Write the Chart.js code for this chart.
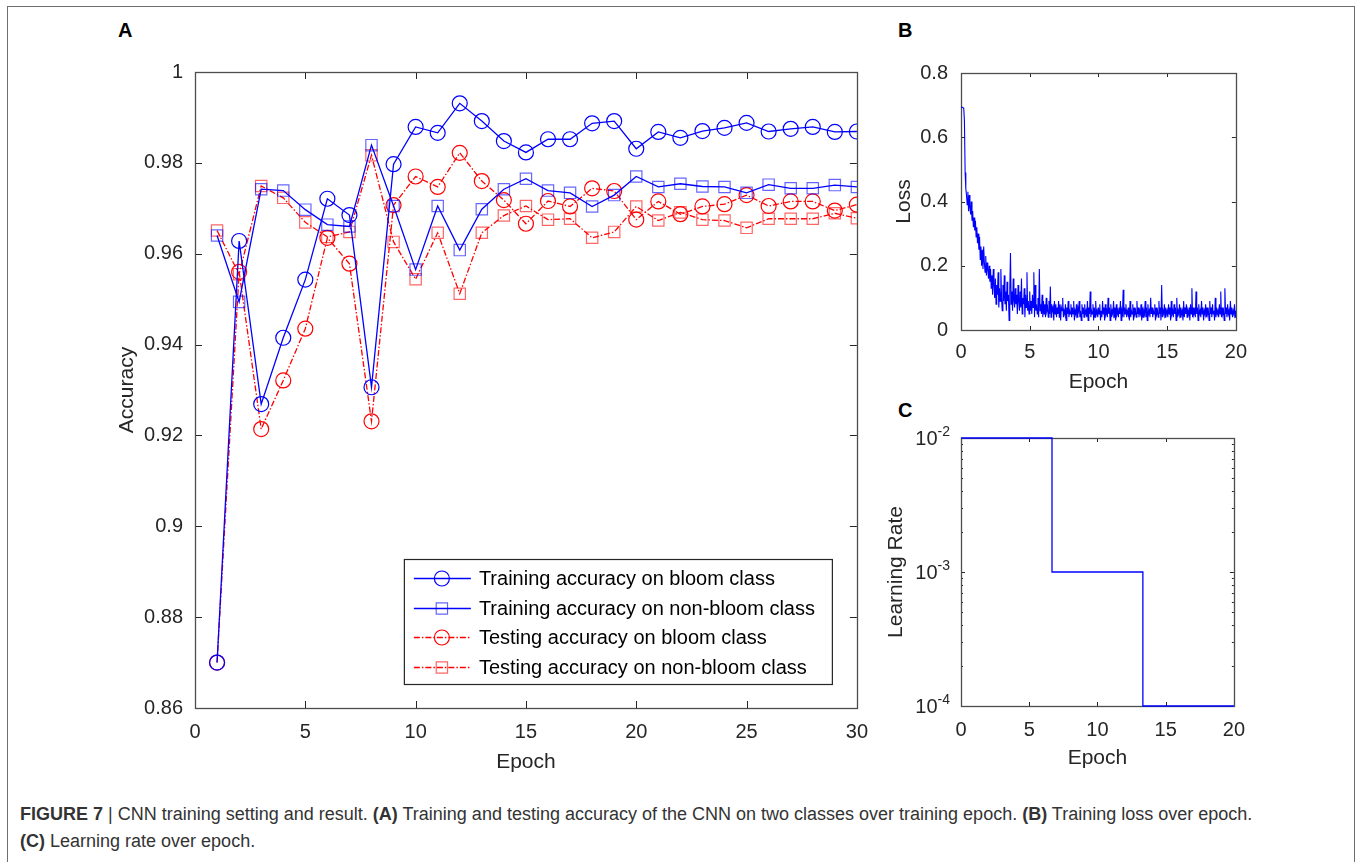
<!DOCTYPE html>
<html>
<head>
<meta charset="utf-8">
<script src="https://cdn.jsdelivr.net/npm/chart.js@4.4.1/dist/chart.umd.min.js"></script>
<style>
    html, body { margin: 0; padding: 0; background: #fff; }
    #page { position: relative; width: 1357px; height: 862px; overflow: hidden; font-family: "Liberation Sans", Arial, sans-serif; }
    .frame { position: absolute; left: 7px; top: 6px; width: 1348px; height: 900px; border: 1.5px solid #6e6e6e; box-sizing: border-box; }
    .box { position: absolute; }
    .panel { position: absolute; font-weight: bold; font-size: 20px; line-height: 22px; color: #000; }
    .caption { position: absolute; left: 20px; top: 801px; font-size: 18px; line-height: 27px; color: #333; white-space: nowrap; }
</style>
</head>
<body>
<div id="page">
    <div class="frame"></div>

    <div class="panel" style="left:118px; top:19px;">A</div>
    <div class="panel" style="left:898px; top:19px;">B</div>
    <div class="panel" style="left:898px; top:399px;">C</div>

    <div class="box" style="left:100px; top:48px;"><canvas id="acc-chart" width="780" height="744"></canvas></div>
    <div class="box" style="left:880px; top:48px;"><canvas id="loss-chart" width="377" height="357"></canvas></div>
    <div class="box" style="left:872px; top:424px;"><canvas id="lr-chart" width="385" height="366"></canvas></div>

    <div class="caption"><b>FIGURE 7</b> | CNN training setting and result. <b>(A)</b> Training and testing accuracy of the CNN on two classes over training epoch. <b>(B)</b> Training loss over epoch.<br><b>(C)</b> Learning rate over epoch.</div>
</div>

<script>
// ------------------------------------------------------
// @Data
// ------------------------------------------------------

const EPOCHS = [1, 2, 3, 4, 5, 6, 7, 8, 9, 10, 11, 12, 13, 14, 15, 16, 17, 18, 19, 20, 21, 22, 23, 24, 25, 26, 27, 28, 29, 30];

const TRAIN_BLOOM = [0.870, 0.9628, 0.9269, 0.9415, 0.9543, 0.9721, 0.9685, 0.9306, 0.9797, 0.9879,
    0.9866, 0.9931, 0.9892, 0.9848, 0.9823, 0.9852, 0.9852, 0.9887, 0.9892, 0.9831,
    0.9868, 0.9855, 0.9870, 0.9877, 0.9888, 0.9869, 0.9875, 0.9879, 0.9868, 0.9869];

const TRAIN_NONBLOOM = [0.9640, 0.9494, 0.9742, 0.9739, 0.9697, 0.9664, 0.9660, 0.9839, 0.9705, 0.9565,
    0.9705, 0.9608, 0.9698, 0.9742, 0.9765, 0.9739, 0.9734, 0.9704, 0.9729, 0.9770,
    0.9747, 0.9754, 0.9748, 0.9747, 0.9734, 0.9752, 0.9744, 0.9744, 0.9751, 0.9747];

const TEST_BLOOM = [0.870, 0.9560, 0.9214, 0.9321, 0.9435, 0.9635, 0.9578, 0.9231, 0.9707, 0.9770,
    0.9747, 0.9822, 0.9760, 0.9718, 0.9666, 0.9716, 0.9704, 0.9744, 0.9738, 0.9675,
    0.9715, 0.9687, 0.9704, 0.9709, 0.9729, 0.9705, 0.9715, 0.9715, 0.9695, 0.9708];

const TEST_NONBLOOM = [0.9651, 0.9555, 0.9749, 0.9723, 0.9669, 0.9637, 0.9648, 0.9817, 0.9626, 0.9544,
    0.9646, 0.9512, 0.9646, 0.9684, 0.9705, 0.9675, 0.9677, 0.9635, 0.9648, 0.9704,
    0.9673, 0.9691, 0.9675, 0.9673, 0.9657, 0.9677, 0.9677, 0.9677, 0.9689, 0.9678];

const ACC_TICKS = [0.86, 0.88, 0.9, 0.92, 0.94, 0.96, 0.98, 1];
const EPOCH_TICKS_A = [0, 5, 10, 15, 20, 25, 30];

// training loss, twenty readings per epoch (epoch 0 .. 20), one row per epoch
const LOSS = [
    0.693, 0.693, 0.693, 0.692, 0.690, 0.65, 0.49, 0.44, 0.42, 0.39, 0.43, 0.37, 0.42, 0.38, 0.36, 0.40, 0.34, 0.37, 0.32, 0.35,
    0.31, 0.34, 0.29, 0.32, 0.27, 0.30, 0.25, 0.29, 0.22, 0.26, 0.20, 0.25, 0.19, 0.26, 0.21, 0.18, 0.23, 0.17, 0.21, 0.19,
    0.16, 0.20, 0.15, 0.19, 0.13, 0.17, 0.11, 0.19, 0.14, 0.10, 0.16, 0.08, 0.14, 0.11, 0.18, 0.07, 0.13, 0.09, 0.19, 0.10,
    0.06, 0.14, 0.09, 0.17, 0.08, 0.12, 0.06, 0.15, 0.09, 0.11, 0.03, 0.13, 0.24, 0.08, 0.12, 0.06, 0.16, 0.09, 0.07, 0.13,
    0.08, 0.11, 0.05, 0.14, 0.09, 0.06, 0.12, 0.07, 0.16, 0.05, 0.10, 0.08, 0.13, 0.04, 0.11, 0.07, 0.18, 0.06, 0.09, 0.05,
    0.12, 0.06, 0.09, 0.05, 0.11, 0.07, 0.18, 0.04, 0.14, 0.06, 0.08, 0.05, 0.10, 0.04, 0.19, 0.06, 0.08, 0.05, 0.11, 0.04,
    0.09, 0.05, 0.08, 0.04, 0.10, 0.06, 0.07, 0.04, 0.09, 0.05, 0.135, 0.04, 0.08, 0.06, 0.07, 0.03, 0.09, 0.05, 0.08, 0.04,
    0.07, 0.05, 0.09, 0.04, 0.08, 0.03, 0.07, 0.06, 0.10, 0.04, 0.06, 0.05, 0.08, 0.03, 0.07, 0.05, 0.09, 0.04, 0.06, 0.05,
    0.08, 0.04, 0.07, 0.05, 0.09, 0.03, 0.06, 0.05, 0.08, 0.04, 0.07, 0.06, 0.09, 0.04, 0.06, 0.03, 0.08, 0.05, 0.07, 0.04,
    0.08, 0.05, 0.06, 0.04, 0.09, 0.03, 0.07, 0.05, 0.12, 0.04, 0.06, 0.05, 0.08, 0.03, 0.07, 0.04, 0.09, 0.05, 0.06, 0.04,
    0.07, 0.05, 0.08, 0.03, 0.06, 0.04, 0.09, 0.05, 0.07, 0.03, 0.08, 0.05, 0.06, 0.04, 0.10, 0.05, 0.07, 0.03, 0.08, 0.04,
    0.06, 0.05, 0.09, 0.04, 0.07, 0.03, 0.08, 0.05, 0.06, 0.04, 0.07, 0.05, 0.09, 0.03, 0.06, 0.05, 0.125, 0.04, 0.07, 0.05,
    0.08, 0.04, 0.06, 0.05, 0.07, 0.03, 0.09, 0.04, 0.06, 0.05, 0.08, 0.03, 0.07, 0.05, 0.06, 0.04, 0.09, 0.05, 0.07, 0.04,
    0.06, 0.05, 0.08, 0.03, 0.07, 0.04, 0.06, 0.05, 0.09, 0.04, 0.07, 0.03, 0.08, 0.05, 0.06, 0.04, 0.10, 0.05, 0.07, 0.04,
    0.06, 0.05, 0.08, 0.03, 0.07, 0.05, 0.06, 0.04, 0.09, 0.05, 0.07, 0.03, 0.14, 0.04, 0.06, 0.05, 0.08, 0.04, 0.07, 0.05,
    0.06, 0.04, 0.08, 0.05, 0.07, 0.03, 0.09, 0.05, 0.06, 0.04, 0.08, 0.05, 0.07, 0.03, 0.10, 0.04, 0.06, 0.05, 0.08, 0.04,
    0.07, 0.05, 0.06, 0.03, 0.09, 0.04, 0.07, 0.05, 0.08, 0.04, 0.06, 0.05, 0.07, 0.03, 0.08, 0.05, 0.13, 0.04, 0.07, 0.05,
    0.06, 0.04, 0.12, 0.05, 0.07, 0.03, 0.08, 0.05, 0.06, 0.04, 0.09, 0.05, 0.07, 0.03, 0.06, 0.05, 0.08, 0.04, 0.07, 0.05,
    0.06, 0.03, 0.09, 0.05, 0.07, 0.04, 0.08, 0.05, 0.06, 0.03, 0.10, 0.04, 0.07, 0.05, 0.06, 0.04, 0.08, 0.05, 0.12, 0.04,
    0.07, 0.05, 0.06, 0.03, 0.13, 0.05, 0.07, 0.04, 0.08, 0.05, 0.06, 0.03, 0.09, 0.05, 0.07, 0.04, 0.06, 0.05, 0.08, 0.04,
    0.06
];
const LOSS_PER_EPOCH = 20;
const LOSS_TICKS = [0, 0.2, 0.4, 0.6, 0.8];
const EPOCH_TICKS_BC = [0, 5, 10, 15, 20];

const LR_EPOCHS = [0, 6.67, 13.33, 20];
const LR_VALUES = [1e-2, 1e-3, 1e-4, 1e-4];
const LR_TICKS = [1e-4, 1e-3, 1e-2];

// ------------------------------------------------------
// @Helpers
// ------------------------------------------------------

const AXIS_COLOR = '#262626';
const FONT = '"Liberation Sans", Arial, sans-serif';
const BLUE = '#0000ff';
const RED = '#ff0000';
const BLUE_SOFT = 'rgba(0,0,255,0.6)';
const RED_SOFT = 'rgba(255,0,0,0.6)';
const DASH_DOT = [6, 2, 1.5, 2];

const fixWidth = w => scale => { scale.width = w; };
const fixHeight = h => scale => { scale.height = h; };
const useTicks = values => scale => { scale.ticks = values.map(v => ({ value: v })); };
const trim = v => String(Number(v.toFixed(2)));

// box round the plot with inward ticks, like matlab axes
const matlabAxes = {
    id: 'matlabAxes',
    beforeDatasetsDraw(chart, args, opts) {
        const { ctx, chartArea: a, scales } = chart;
        const len = opts.tick || 5;
        ctx.save();
        ctx.strokeStyle = AXIS_COLOR;
        ctx.lineWidth = 1;
        ctx.beginPath();
        scales.x.ticks.forEach(t => {
            const px = Math.round(scales.x.getPixelForValue(t.value)) + 0.5;
            ctx.moveTo(px, a.bottom); ctx.lineTo(px, a.bottom - len);
            ctx.moveTo(px, a.top); ctx.lineTo(px, a.top + len);
        });
        const yTick = (v, l) => {
            const py = Math.round(scales.y.getPixelForValue(v)) + 0.5;
            ctx.moveTo(a.left, py); ctx.lineTo(a.left + l, py);
            ctx.moveTo(a.right, py); ctx.lineTo(a.right - l, py);
        };
        scales.y.ticks.forEach(t => yTick(t.value, len));
        if (opts.minor) {
            scales.y.ticks.slice(0, -1).forEach(t => {
                for (let k = 2; k < 10; k++) yTick(t.value * k, len * 0.5);
            });
        }
        ctx.stroke();
        ctx.lineWidth = 1.3;
        ctx.strokeStyle = '#4d4d4d';
        ctx.strokeRect(Math.round(a.left) + 0.5, Math.round(a.top) + 0.5,
            Math.round(a.right - a.left), Math.round(a.bottom - a.top));
        ctx.restore();
    },
};

const baseOptions = () => ({
    responsive: false,
    animation: false,
    events: [],
    plugins: { legend: { display: false }, tooltip: { enabled: false } },
});

const tickFont = { family: FONT, size: 20 };
const titleFont = { family: FONT, size: 21 };

// ------------------------------------------------------
// @Accuracy Chart (A)
// ------------------------------------------------------

const accLegend = {
    id: 'accLegend',
    afterDraw(chart) {
        const { ctx, chartArea: a } = chart;
        const w = 428, h = 125;
        const left = a.right - 25 - w;
        const top = a.bottom - 24 - h;
        ctx.save();
        ctx.fillStyle = '#fff';
        ctx.fillRect(left, top, w, h);
        ctx.strokeStyle = AXIS_COLOR;
        ctx.lineWidth = 1.2;
        ctx.strokeRect(left + 0.5, top + 0.5, w, h);
        ctx.font = '20px ' + FONT;
        ctx.textBaseline = 'middle';
        chart.data.datasets.forEach((ds, i) => {
            const y = Math.round(top + 19 + i * 29.7) + 0.5;
            const mx = left + 38;
            ctx.strokeStyle = ds.borderColor;
            ctx.lineWidth = ds.borderWidth;
            ctx.setLineDash(ds.borderDash || []);
            ctx.beginPath();
            ctx.moveTo(left + 10, y);
            ctx.lineTo(left + 67, y);
            ctx.stroke();
            ctx.setLineDash([]);
            ctx.strokeStyle = ds.pointBorderColor;
            ctx.lineWidth = ds.pointBorderWidth;
            ctx.beginPath();
            if (ds.pointStyle === 'rect') {
                const s = ds.pointRadius * Math.SQRT1_2;
                ctx.rect(mx - s, y - s, 2 * s, 2 * s);
            } else {
                ctx.arc(mx, y, ds.pointRadius, 0, Math.PI * 2);
            }
            ctx.stroke();
            ctx.fillStyle = '#000';
            ctx.fillText(ds.label, left + 75, y + 1);
        });
        ctx.restore();
    },
};

function accSet(label, values, color, markColor, style, dash) {
    return {
        label,
        data: EPOCHS.map((e, i) => ({ x: e, y: values[i] })),
        borderColor: color,
        borderWidth: 1.3,
        borderDash: dash,
        pointStyle: style,
        pointRadius: style === 'rect' ? 8 : 7.5,
        pointBorderColor: markColor,
        pointBackgroundColor: 'rgba(0,0,0,0)',
        pointBorderWidth: 1.2,
        tension: 0,
        fill: false,
    };
}

new Chart(document.getElementById('acc-chart'), {
    type: 'line',
    data: {
        datasets: [
            accSet('Training accuracy on bloom class', TRAIN_BLOOM, BLUE, BLUE, 'circle', []),
            accSet('Training accuracy on non-bloom class', TRAIN_NONBLOOM, BLUE, BLUE_SOFT, 'rect', []),
            accSet('Testing accuracy on bloom class', TEST_BLOOM, RED, RED, 'circle', DASH_DOT),
            accSet('Testing accuracy on non-bloom class', TEST_NONBLOOM, RED, RED_SOFT, 'rect', DASH_DOT),
        ],
    },
    options: {
        ...baseOptions(),
        layout: { padding: { top: 14, right: 22, left: 0, bottom: 0 } },
        scales: {
            x: {
                type: 'linear', min: 0, max: 30,
                afterBuildTicks: useTicks(EPOCH_TICKS_A),
                afterFit: fixHeight(84),
                grid: { display: false, drawTicks: false },
                border: { display: false },
                ticks: { font: tickFont, color: AXIS_COLOR, padding: 12, autoSkip: false, maxRotation: 0 },
                title: { display: true, text: 'Epoch', font: titleFont, color: AXIS_COLOR, padding: { top: 0, bottom: 17 } },
            },
            y: {
                type: 'linear', min: 0.86, max: 1,
                afterBuildTicks: useTicks(ACC_TICKS),
                afterFit: fixWidth(95),
                grid: { display: false, drawTicks: false },
                border: { display: false },
                ticks: { font: tickFont, color: AXIS_COLOR, padding: 12, autoSkip: false, callback: v => trim(v) },
                title: { display: true, text: 'Accuracy', font: titleFont, color: AXIS_COLOR, padding: { top: 15, bottom: 0 } },
            },
        },
        plugins: { ...baseOptions().plugins, matlabAxes: { tick: 7 } },
    },
    plugins: [matlabAxes, accLegend],
});

// ------------------------------------------------------
// @Loss Chart (B)
// ------------------------------------------------------

new Chart(document.getElementById('loss-chart'), {
    type: 'line',
    data: {
        datasets: [{
            data: LOSS.map((v, i) => ({ x: i / LOSS_PER_EPOCH, y: v })),
            borderColor: BLUE,
            borderWidth: 1.1,
            pointRadius: 0,
            tension: 0,
        }],
    },
    options: {
        ...baseOptions(),
        layout: { padding: { top: 14, right: 20, left: 0, bottom: 0 } },
        scales: {
            x: {
                type: 'linear', min: 0, max: 20,
                afterBuildTicks: useTicks(EPOCH_TICKS_BC),
                afterFit: fixHeight(75),
                grid: { display: false, drawTicks: false },
                border: { display: false },
                ticks: { font: tickFont, color: AXIS_COLOR, padding: 10, autoSkip: false, maxRotation: 0 },
                title: { display: true, text: 'Epoch', font: titleFont, color: AXIS_COLOR, padding: { top: 0, bottom: 10 } },
            },
            y: {
                type: 'linear', min: 0, max: 0.8,
                afterBuildTicks: useTicks(LOSS_TICKS),
                afterFit: fixWidth(81),
                grid: { display: false, drawTicks: false },
                border: { display: false },
                ticks: { font: tickFont, color: AXIS_COLOR, padding: 13, autoSkip: false, callback: v => trim(v) },
                title: { display: true, text: 'Loss', font: titleFont, color: AXIS_COLOR, padding: { top: 12, bottom: 0 } },
            },
        },
        plugins: { ...baseOptions().plugins, matlabAxes: { tick: 4 } },
    },
    plugins: [matlabAxes],
});

// ------------------------------------------------------
// @Learning Rate Chart (C)
// ------------------------------------------------------

// 10^-n labels with a raised exponent
const powerLabels = {
    id: 'powerLabels',
    afterDraw(chart) {
        const { ctx, chartArea: a, scales } = chart;
        ctx.save();
        ctx.fillStyle = AXIS_COLOR;
        ctx.textBaseline = 'alphabetic';
        scales.y.ticks.forEach(t => {
            const py = scales.y.getPixelForValue(t.value);
            const exp = String(Math.round(Math.log10(t.value)));
            ctx.font = '14px ' + FONT;
            const ew = ctx.measureText(exp).width;
            const right = a.left - 11;
            ctx.textAlign = 'right';
            ctx.fillText(exp, right, py - 2);
            ctx.font = '20px ' + FONT;
            ctx.fillText('10', right - ew, py + 7);
        });
        ctx.restore();
    },
};

new Chart(document.getElementById('lr-chart'), {
    type: 'line',
    data: {
        datasets: [{
            data: LR_EPOCHS.map((e, i) => ({ x: e, y: LR_VALUES[i] })),
            borderColor: BLUE,
            borderWidth: 1.3,
            pointRadius: 0,
            stepped: 'before',
            clip: 4,
        }],
    },
    options: {
        ...baseOptions(),
        layout: { padding: { top: 14, right: 20, left: 0, bottom: 0 } },
        scales: {
            x: {
                type: 'linear', min: 0, max: 20,
                afterBuildTicks: useTicks(EPOCH_TICKS_BC),
                afterFit: fixHeight(84),
                grid: { display: false, drawTicks: false },
                border: { display: false },
                ticks: { font: tickFont, color: AXIS_COLOR, padding: 12, autoSkip: false, maxRotation: 0 },
                title: { display: true, text: 'Epoch', font: titleFont, color: AXIS_COLOR, padding: { top: 0, bottom: 19 } },
            },
            y: {
                type: 'logarithmic', min: 1e-4, max: 1e-2,
                afterBuildTicks: useTicks(LR_TICKS),
                afterFit: fixWidth(89),
                grid: { display: false, drawTicks: false },
                border: { display: false },
                ticks: { display: false },
                title: { display: true, text: 'Learning Rate', font: titleFont, color: AXIS_COLOR, padding: { top: 12, bottom: 0 } },
            },
        },
        plugins: { ...baseOptions().plugins, matlabAxes: { tick: 4, minor: true } },
    },
    plugins: [matlabAxes, powerLabels],
});
</script>
</body>
</html>
